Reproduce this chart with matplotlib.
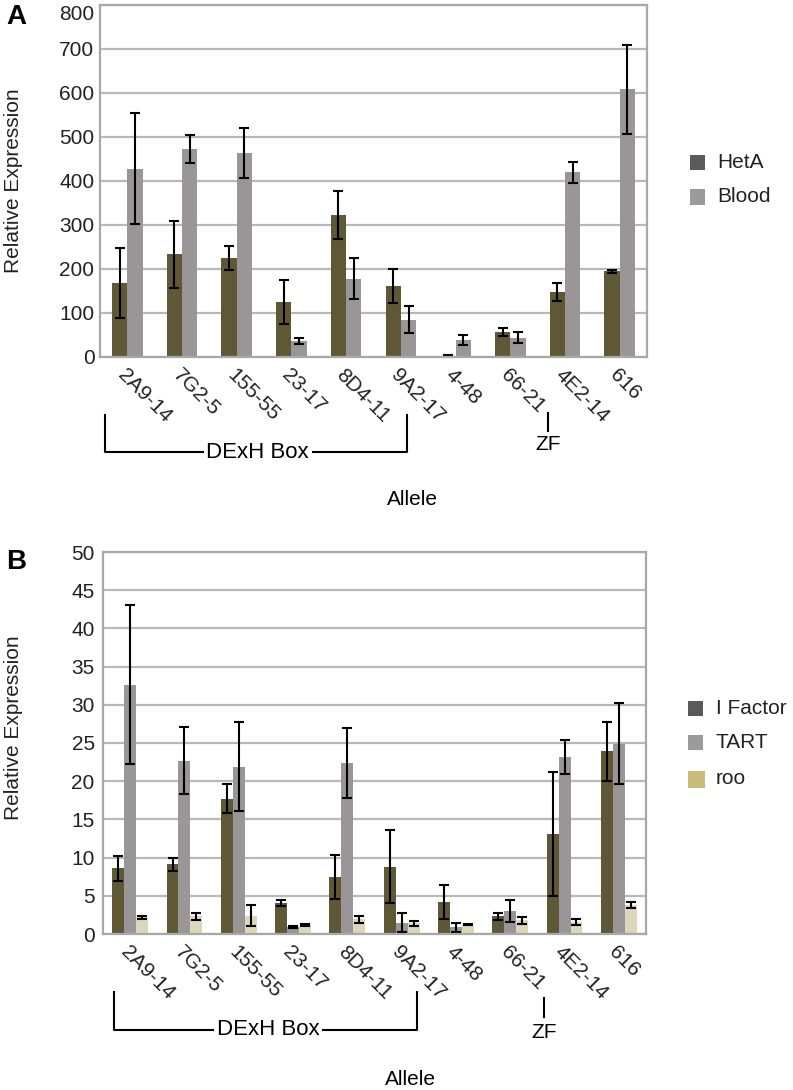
import numpy as np
import matplotlib
matplotlib.use("Agg")
import matplotlib.pyplot as plt
from matplotlib.patches import Rectangle

plt.rcParams['font.family'] = ['Liberation Sans', 'DejaVu Sans']

alleles = ['2A9-14', '7G2-5', '155-55', '23-17', '8D4-11', '9A2-17', '4-48', '66-21', '4E2-14', '616']

# panel A
heta = [168, 233, 225, 126, 323, 161, 3, 57, 148, 195]
heta_err = [80, 77, 27, 50, 55, 38, 1, 10, 21, 3]
blood = [428, 472, 464, 36, 178, 85, 39, 44, 420, 608]
blood_err = [126, 32, 57, 7, 47, 30, 12, 13, 24, 102]

# panel B
ifactor = [8.6, 9.1, 17.7, 4.1, 7.5, 8.8, 4.2, 2.3, 13.1, 23.9]
ifactor_err = [1.6, 0.9, 1.9, 0.4, 2.9, 4.8, 2.2, 0.5, 8.1, 3.9]
tart = [32.6, 22.7, 21.9, 0.9, 22.4, 1.5, 0.9, 3.0, 23.2, 24.9]
tart_err = [10.4, 4.4, 5.8, 0.15, 4.6, 1.2, 0.6, 1.4, 2.2, 5.3]
roo = [2.2, 2.3, 2.4, 1.2, 1.9, 1.4, 1.2, 1.8, 1.6, 3.8]
roo_err = [0.2, 0.5, 1.4, 0.1, 0.45, 0.35, 0.05, 0.45, 0.4, 0.4]

OLIVE = '#5f5837'
GRAY = '#9a9697'
BEIGE = '#dcd6ba'
FRAME = '#a8a8a8'
GRID = '#b8b8b8'

W, H = 793, 1090
fig = plt.figure(figsize=(W / 100, H / 100), dpi=100)


def px_axes(left, top, right, bottom):
    return fig.add_axes([left / W, 1 - bottom / H, (right - left) / W, (bottom - top) / H])


def style_axes(ax, ymax, step, pad):
    ax.set_xlim(-0.5, len(alleles) - 0.5)
    ax.set_ylim(0, ymax)
    ax.set_yticks(np.arange(0, ymax + step / 2, step))
    ax.yaxis.grid(True, color=GRID, linewidth=1.6)
    ax.set_axisbelow(True)
    for s in ax.spines.values():
        s.set_color(FRAME)
        s.set_linewidth(1.6)
    ax.tick_params(axis='both', length=0, labelsize=15, colors='#222222')
    ax.tick_params(axis='y', pad=pad)
    ax.set_xticks(np.arange(len(alleles)))
    ax.set_xticklabels(alleles, rotation=-45, ha='left', rotation_mode='anchor')
    ax.tick_params(axis='x', pad=6)
    ax.set_ylabel('Relative Expression', fontsize=15, color='#222222')


def annotate_groups(ax, xl, xr, xt, y_top, y_bar, xz, zf_top, zf_bot, zf_txt, x_all, y_all):
    tr = ax.get_xaxis_transform()
    kw = dict(transform=tr, clip_on=False, color='black', linewidth=1.5)
    ax.plot([xl, xl, xr, xr], [y_top, y_bar, y_bar, y_top], **kw)
    ax.text(xt, y_bar, 'DExH Box', transform=tr, ha='center', va='center', fontsize=16,
            bbox=dict(facecolor='white', edgecolor='none', pad=2))
    ax.plot([xz, xz], [zf_top, zf_bot], **kw)
    ax.text(xz, zf_txt, 'ZF', transform=tr, ha='center', va='center', fontsize=15)
    ax.text(x_all, y_all, 'Allele', transform=tr, ha='center', va='center', fontsize=15)


def legend_box(entries, x0, x_text):
    for y, color, label, size in entries:
        fig.patches.append(Rectangle((x0 / W, 1 - (y + size / 2) / H), size / W, size / H,
                                     transform=fig.transFigure, facecolor=color, edgecolor='none'))
        fig.text(x_text / W, 1 - y / H, label, fontsize=15, ha='left', va='center', color='#222222')


err_kw = dict(ecolor='black', elinewidth=1.5, capsize=3.3, capthick=1.5)
x = np.arange(len(alleles))

# ---- panel A ----
axA = px_axes(100, 5, 647, 357)
bw = 0.28
axA.bar(x - bw / 2, heta, bw, yerr=heta_err, color=OLIVE, error_kw=err_kw)
axA.bar(x + bw / 2, blood, bw, yerr=blood_err, color=GRAY, error_kw=err_kw)
style_axes(axA, 800, 100, 4)
axA.yaxis.set_label_coords(-0.141, 0.5)
# keep the top tick label inside the figure
axA.yaxis.get_major_ticks()[-1].label1.set_verticalalignment('top')
annotate_groups(axA, -0.41, 5.11, 2.38, -0.165, -0.27, 7.69, -0.159, -0.21, -0.25, 5.22, -0.406)
legend_box([(163, '#5a5a5a', 'HetA', 15), (197, '#9b9b9b', 'Blood', 15)], 690, 717)
fig.text(16 / W, 1 - 17 / H, 'A', fontsize=20, fontweight='bold', ha='center', va='center')

# ---- panel B ----
axB = px_axes(103, 552, 646, 934)
bw = 0.22
axB.bar(x - bw, ifactor, bw, yerr=ifactor_err, color=OLIVE, error_kw=err_kw)
axB.bar(x, tart, bw, yerr=tart_err, color=GRAY, error_kw=err_kw)
axB.bar(x + bw, roo, bw, yerr=roo_err, color=BEIGE, error_kw=err_kw)
style_axes(axB, 50, 5, 6)
axB.yaxis.set_label_coords(-0.147, 0.54)
annotate_groups(axB, -0.297, 5.28, 2.54, -0.152, -0.251, 7.62, -0.168, -0.217, -0.257, 5.17, -0.382)
legend_box([(708, '#5a5a5a', 'I Factor', 15), (742, '#9b9b9b', 'TART', 15), (779, '#c9bc7a', 'roo', 17)], 688, 716)
fig.text(16 / W, 1 - 562 / H, 'B', fontsize=20, fontweight='bold', ha='center', va='center')

fig.savefig('out.png', dpi=100, facecolor='white')
